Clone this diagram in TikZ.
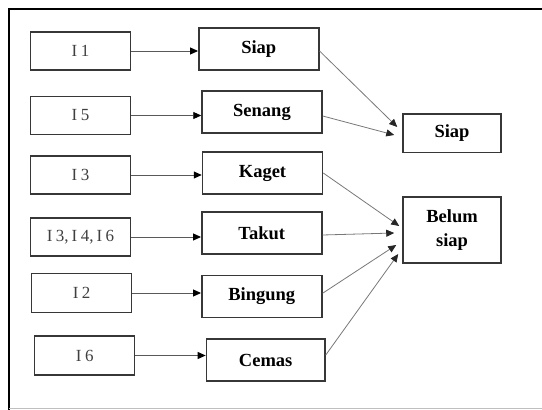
\documentclass[tikz,border=0pt]{standalone}
\usepackage{fontspec}
\setmainfont{Liberation Serif}
\usetikzlibrary{arrows.meta}
\definecolor{boxline}{RGB}{55,55,55}
\definecolor{linkgray}{RGB}{120,120,120}

\begin{document}
\begin{tikzpicture}[x=1pt, y=-1pt,
    item/.style={draw=boxline, line width=1.5pt, minimum width=100pt, minimum height=38pt,
      inner sep=0pt, text=black!75, font=\fontsize{17}{20}\selectfont},
    mood/.style={draw=boxline, line width=1.5pt, minimum width=120pt, minimum height=42pt,
      inner sep=0pt, font=\fontsize{18.5}{22}\selectfont\bfseries},
    result/.style={draw=boxline, line width=1.5pt, minimum width=98pt, inner sep=0pt,
      align=center, font=\fontsize{18.5}{24}\selectfont\bfseries},
    feed/.style={draw=black!65, line width=0.9pt, -{Triangle[length=8pt, width=7pt, color=black]}},
    link/.style={draw=linkgray, line width=0.8pt, -{Triangle[length=8pt, width=7pt, color=black!85]}}]
  \useasboundingbox (0,0) rectangle (542,410);

  % outer frame
  \draw[line width=2pt] (542,8.5) -- (9,8.5) -- (9,410);
  \draw[black!25, line width=0.8pt] (9,408) -- (542,408);

  % indicators
  \node[item] (i1) at (80.5,51) {I\hspace{3.5pt}1};
  \node[item] (i5) at (80.5,115.5) {I\hspace{3.5pt}5};
  \node[item] (i3) at (80.5,175) {I\hspace{3.5pt}3};
  \node[item] (i346) at (80.5,237) {I\hspace{3.5pt}3,\hspace{3pt}I\hspace{3.5pt}4,\hspace{3pt}I\hspace{3.5pt}6};
  \node[item, minimum height=39pt] (i2) at (81.6,293) {I\hspace{3.5pt}2};
  \node[item, minimum height=39pt] (i6) at (84.7,355.5) {I\hspace{3.5pt}6};

  % feelings
  \node[mood] (siap) at (258.8,49) {Siap};
  \node[mood] (senang) at (262,112) {Senang};
  \node[mood] (kaget) at (262.5,173) {Kaget};
  \node[mood] (takut) at (261.8,233) {Takut};
  \node[mood] (bingung) at (261.8,296.3) {Bingung};
  \node[mood, minimum width=118.6pt] (cemas) at (265.7,360) {Cemas};

  % outcome
  \node[result, minimum height=38.5pt] (ready) at (452,133) {Siap};
  \node[result, minimum height=66pt] (notready) at (452,230) {Belum\\siap};

  % indicator -> feeling
  \draw[feed] (i1.east) -- (i1.east -| siap.west);
  \draw[feed] (i5.east) -- (i5.east -| senang.west);
  \draw[feed] (i3.east) -- (i3.east -| kaget.west);
  \draw[feed] (i346.east) -- (i346.east -| takut.west);
  \draw[feed] (i2.east) -- (i2.east -| bingung.west);
  \draw[feed] (i6.east) -- (i6.east -| cemas.west);

  % feeling -> outcome
  \draw[link] ([shift={(0,2)}]siap.east) -- ([shift={(-5,-6)}]ready.west);
  \draw[link] ([shift={(0,4)}]senang.east) -- ([shift={(-8,2)}]ready.west);
  \draw[link] (kaget.east) -- ([shift={(-3,-4)}]notready.west);
  \draw[link] ([shift={(0,2)}]takut.east) -- ([shift={(-8,3)}]notready.west);
  \draw[link] ([shift={(0,-3)}]bingung.east) -- ([shift={(-6,15)}]notready.west);
  \draw[link] ([shift={(0,-5)}]cemas.east) -- ([shift={(-4,24)}]notready.west);
\end{tikzpicture}
\end{document}
